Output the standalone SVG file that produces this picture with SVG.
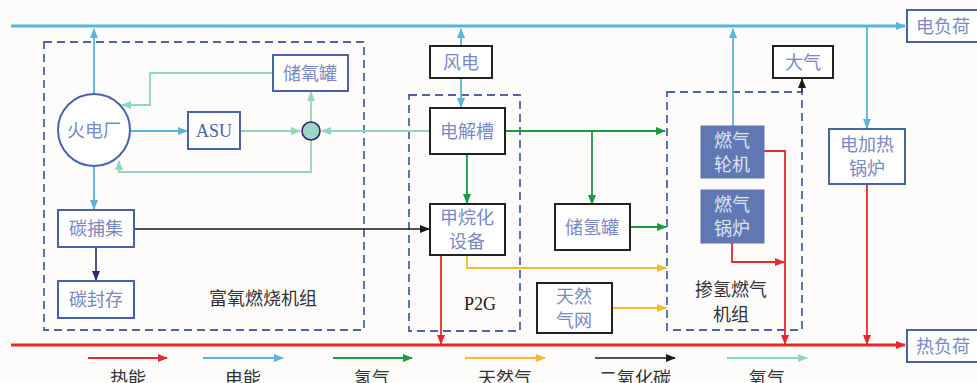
<svg xmlns="http://www.w3.org/2000/svg" width="977" height="383" viewBox="0 0 977 383">
<defs>
<style>
.bg{fill:#fdfcfb}
.dash{fill:none;stroke:#4d65a8;stroke-width:1.8;stroke-dasharray:8,5}
.nb{fill:#fff;stroke:#4a62a8;stroke-width:2}
.nk{fill:#fff;stroke:#222;stroke-width:2}
.nf{fill:#6079b4;stroke:#5a72ae;stroke-width:1}
.t{font-family:"Noto Sans CJK SC","Noto Sans",sans-serif;font-size:18px;fill:#7a89bf;text-anchor:middle}
.tw{font-family:"Noto Sans CJK SC","Noto Sans",sans-serif;font-size:18px;fill:#dde3f0;text-anchor:middle}
.tl{font-family:"Noto Sans CJK SC","Noto Sans",sans-serif;font-size:18px;fill:#333;text-anchor:middle}
.ts{font-family:"Liberation Serif",serif;font-size:18px;text-anchor:middle}
.e{fill:none;stroke:#5ab4de;stroke-width:1.8}
.h{fill:none;stroke:#e8282c;stroke-width:1.8}
.g{fill:none;stroke:#1a9a45;stroke-width:1.8}
.y{fill:none;stroke:#f9b92e;stroke-width:1.8}
.k{fill:none;stroke:#1a1a1a;stroke-width:1.6}
.o{fill:none;stroke:#92d5c2;stroke-width:1.8}
.nv{fill:none;stroke:#2a2a6a;stroke-width:1.6}
</style>
<marker id="ae" markerWidth="10" markerHeight="8" refX="9" refY="4" orient="auto" markerUnits="userSpaceOnUse"><path d="M0,0 L10,4 L0,8 Z" fill="#5ab4de"/></marker>
<marker id="ah" markerWidth="10" markerHeight="8" refX="9" refY="4" orient="auto" markerUnits="userSpaceOnUse"><path d="M0,0 L10,4 L0,8 Z" fill="#e8282c"/></marker>
<marker id="ag" markerWidth="10" markerHeight="8" refX="9" refY="4" orient="auto" markerUnits="userSpaceOnUse"><path d="M0,0 L10,4 L0,8 Z" fill="#1a9a45"/></marker>
<marker id="ay" markerWidth="10" markerHeight="8" refX="9" refY="4" orient="auto" markerUnits="userSpaceOnUse"><path d="M0,0 L10,4 L0,8 Z" fill="#f9b92e"/></marker>
<marker id="ak" markerWidth="10" markerHeight="8" refX="9" refY="4" orient="auto" markerUnits="userSpaceOnUse"><path d="M0,0 L10,4 L0,8 Z" fill="#1a1a1a"/></marker>
<marker id="ao" markerWidth="10" markerHeight="8" refX="9" refY="4" orient="auto" markerUnits="userSpaceOnUse"><path d="M0,0 L10,4 L0,8 Z" fill="#92d5c2"/></marker>
<marker id="an" markerWidth="10" markerHeight="8" refX="9" refY="4" orient="auto" markerUnits="userSpaceOnUse"><path d="M0,0 L10,4 L0,8 Z" fill="#2a2a6a"/></marker>
</defs>
<rect class="bg" x="0" y="0" width="977" height="383"/>

<!-- group frames -->
<g id="group-oxy">
<rect class="dash" x="44" y="42" width="320" height="288"/>
<text class="tl" x="263" y="305">富氧燃烧机组</text>
</g>
<g id="group-p2g">
<rect class="dash" x="409" y="95" width="111" height="236"/>
<text class="ts" x="480" y="310" fill="#222">P2G</text>
</g>
<g id="group-h2gas">
<rect class="dash" x="667" y="92" width="135" height="238"/>
<text class="tl" x="731" y="296">掺氢燃气</text>
<text class="tl" x="731" y="321">机组</text>
</g>

<!-- connectors -->
<g id="connectors">
<!-- buses -->
<line x1="11" y1="26" x2="905" y2="26" stroke="#5ab4de" stroke-width="3" marker-end="url(#ae)"/>
<line x1="11" y1="345" x2="905" y2="345" stroke="#e8282c" stroke-width="3" marker-end="url(#ah)"/>
<!-- electric -->
<line class="e" x1="94" y1="94" x2="94" y2="29" marker-end="url(#ae)"/>
<line class="e" x1="94" y1="166" x2="94" y2="209" marker-end="url(#ae)"/>
<line class="e" x1="130" y1="131" x2="187" y2="131" marker-end="url(#ae)"/>
<line class="e" x1="461" y1="46" x2="461" y2="29" marker-end="url(#ae)"/>
<line class="e" x1="461" y1="78" x2="461" y2="107" marker-end="url(#ae)"/>
<line class="e" x1="733" y1="126" x2="733" y2="29" marker-end="url(#ae)"/>
<line class="e" x1="867" y1="27" x2="867" y2="128" marker-end="url(#ae)"/>
<!-- oxygen -->
<line class="o" x1="240" y1="131" x2="300" y2="131" marker-end="url(#ao)"/>
<line class="o" x1="311" y1="122" x2="311" y2="92" marker-end="url(#ao)"/>
<polyline class="o" points="273,73 150,73 150,105 122,105" marker-end="url(#ao)"/>
<polyline class="o" points="311,140 311,172 119,172 119,161" marker-end="url(#ao)"/>
<line class="o" x1="430" y1="131" x2="322" y2="131" marker-end="url(#ao)"/>
<!-- CO2 -->
<line class="k" x1="134" y1="229" x2="429" y2="229" marker-end="url(#ak)"/>
<line class="nv" x1="96" y1="247" x2="96" y2="280" marker-end="url(#an)"/>
<line class="k" x1="802" y1="92" x2="802" y2="79" marker-end="url(#ak)"/>
<!-- hydrogen -->
<line class="g" x1="505" y1="131" x2="665" y2="131" marker-end="url(#ag)"/>
<line class="g" x1="592" y1="131" x2="592" y2="204" marker-end="url(#ag)"/>
<line class="g" x1="467" y1="154" x2="467" y2="203" marker-end="url(#ag)"/>
<line class="g" x1="630" y1="227" x2="666" y2="227" marker-end="url(#ag)"/>
<!-- natural gas -->
<polyline class="y" points="467,255 467,268 666,268" marker-end="url(#ay)"/>
<line class="y" x1="612" y1="308" x2="666" y2="308" marker-end="url(#ay)"/>
<!-- heat -->
<line class="h" x1="441" y1="250" x2="441" y2="344" marker-end="url(#ah)"/>
<polyline class="h" points="764,151 785,151 785,344" marker-end="url(#ah)"/>
<polyline class="h" points="732,243 732,262 784,262" marker-end="url(#ah)"/>
<line class="h" x1="867" y1="184" x2="867" y2="344" marker-end="url(#ah)"/>
</g>

<!-- nodes -->
<g id="node-huodianchang">
<circle cx="94" cy="130" r="36" fill="#fff" stroke="#4a62a8" stroke-width="2"/>
<text class="t" x="94" y="137" font-size="19">火电厂</text>
</g>
<g id="node-asu">
<rect class="nb" x="188" y="112" width="52" height="37"/>
<text class="ts" x="214" y="137" fill="#4a62a8">ASU</text>
</g>
<g id="node-mixer">
<circle cx="311" cy="131" r="9" fill="#9fd5c6" stroke="#2a2a6a" stroke-width="1.6"/>
</g>
<g id="node-chuyangguan">
<rect class="nb" x="273" y="55" width="75" height="36"/>
<text class="t" x="310" y="80">储氧罐</text>
</g>
<g id="node-tanbuji">
<rect class="nb" x="58" y="210" width="76" height="37"/>
<text class="t" x="96" y="235">碳捕集</text>
</g>
<g id="node-tanfengcun">
<rect class="nb" x="58" y="281" width="76" height="37"/>
<text class="t" x="96" y="306">碳封存</text>
</g>
<g id="node-fengdian">
<rect class="nk" x="430" y="46" width="62" height="32"/>
<text class="t" x="461" y="69">风电</text>
</g>
<g id="node-dianjiecao">
<rect class="nk" x="430" y="108" width="75" height="46"/>
<text class="t" x="467" y="138">电解槽</text>
</g>
<g id="node-jiawanhua">
<rect class="nk" x="430" y="204" width="75" height="51"/>
<text class="t" x="467" y="224">甲烷化</text>
<text class="t" x="467" y="248">设备</text>
</g>
<g id="node-chuqingguan">
<rect class="nk" x="555" y="204" width="75" height="46"/>
<text class="t" x="592" y="234">储氢罐</text>
</g>
<g id="node-tianranqiwang">
<rect class="nk" x="537" y="283" width="75" height="50"/>
<text class="t" x="574" y="303">天然</text>
<text class="t" x="574" y="327">气网</text>
</g>
<g id="node-ranqilunji">
<rect class="nf" x="701" y="126" width="63" height="52"/>
<text class="tw" x="732" y="147">燃气</text>
<text class="tw" x="732" y="171">轮机</text>
</g>
<g id="node-ranqiguolu">
<rect class="nf" x="701" y="190" width="63" height="53"/>
<text class="tw" x="732" y="211">燃气</text>
<text class="tw" x="732" y="235">锅炉</text>
</g>
<g id="node-daqi">
<rect class="nk" x="773" y="46" width="60" height="32"/>
<text class="t" x="803" y="69">大气</text>
</g>
<g id="node-dianjiare">
<rect class="nb" x="829" y="129" width="76" height="55"/>
<text class="t" x="867" y="151">电加热</text>
<text class="t" x="867" y="175">锅炉</text>
</g>
<g id="node-dianfuhe">
<rect class="nb" x="907" y="10" width="72" height="32"/>
<text class="t" x="943" y="33" fill="#6ab8e0">电负荷</text>
</g>
<g id="node-refuhe">
<rect class="nb" x="907" y="330" width="72" height="32"/>
<text class="t" x="943" y="353" fill="#e8282c">热负荷</text>
</g>

<!-- legend -->
<g id="legend">
<line class="h" x1="88" y1="358" x2="167" y2="358" marker-end="url(#ah)"/>
<line class="e" x1="203" y1="358" x2="283" y2="358" marker-end="url(#ae)"/>
<line class="g" x1="333" y1="358" x2="412" y2="358" marker-end="url(#ag)"/>
<line class="y" x1="465" y1="358" x2="545" y2="358" marker-end="url(#ay)"/>
<line class="k" x1="595" y1="358" x2="675" y2="358" marker-end="url(#ak)"/>
<line class="o" x1="727" y1="358" x2="807" y2="358" marker-end="url(#ao)"/>
<text class="tl" x="128" y="385">热能</text>
<text class="tl" x="243" y="385">电能</text>
<text class="tl" x="372" y="385">氢气</text>
<text class="tl" x="505" y="385">天然气</text>
<text class="tl" x="635" y="385">二氧化碳</text>
<text class="tl" x="767" y="385">氧气</text>
</g>
</svg>
